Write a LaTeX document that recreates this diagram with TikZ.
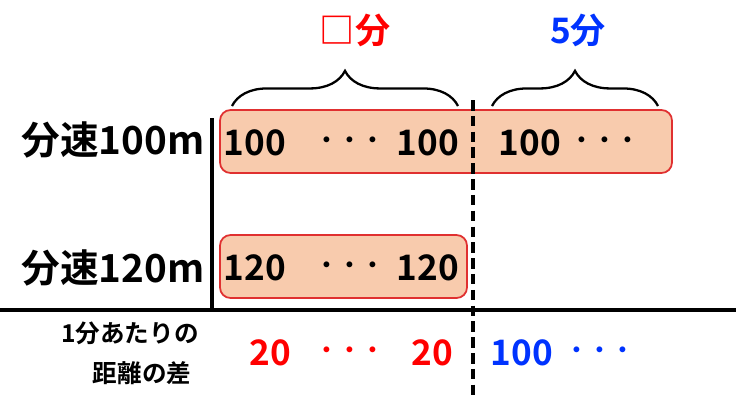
\documentclass[tikz,border=0pt]{standalone}
\usepackage{fontspec}
\setmainfont{Noto Sans CJK JP}[BoldFont={* Bold}]
\usetikzlibrary{decorations.pathreplacing}
\definecolor{barfill}{HTML}{F8CBAD}
\definecolor{barline}{HTML}{E03030}
\definecolor{numred}{HTML}{FF0000}
\definecolor{numblue}{HTML}{0033FF}
\begin{document}
\begin{tikzpicture}
  [x=0.02cm, y=-0.02cm, font=\bfseries,
   bar/.style={draw=barline, fill=barfill, rounded corners=6pt, line width=1pt},
   num/.style={font=\bfseries\fontsize{20}{22}\selectfont},
   dots/.style={font=\bfseries\fontsize{13}{15}\selectfont},
   rowlabel/.style={font=\bfseries\fontsize{22}{24}\selectfont},
   brace/.style={decorate, decoration={brace, amplitude=20pt}, line width=1.3pt}]

  \useasboundingbox (0,0) rectangle (736,407);

  % bars
  \draw[bar] (220,110) rectangle (672,173);
  \draw[bar] (220,235) rectangle (467,298);

  % axes
  \draw[line width=2pt] (212,118) -- (212,310);
  \draw[line width=2pt] (0,310) -- (736,310);
  \draw[line width=2pt, dash pattern=on 6pt off 3pt] (473,100) -- (473,400);

  % braces
  \draw[brace] (232,106) -- (458,106);
  \draw[brace] (492,106) -- (658,106);
  \node[num, text=numred] (unknown) at (355,30) {□分};
  \node[num, text=numblue] (five) at (578,30) {5分};

  % row labels
  \node[rowlabel] (speeda) at (113,140) {分速100m};
  \node[rowlabel] (speedb) at (113,268) {分速120m};
  \node[font=\bfseries\fontsize{14}{16}\selectfont] (diffa) at (130,333) {1分あたりの};
  \node[font=\bfseries\fontsize{14}{16}\selectfont] (diffb) at (142,373) {距離の差};

  % numbers in top bar
  \node[num] (a1) at (255,143) {100};
  \node[dots] (a2) at (350,143) {・・・};
  \node[num] (a3) at (428,143) {100};
  \node[num] (a4) at (530,143) {100};
  \node[dots] (a5) at (605,143) {・・・};

  % numbers in bottom bar
  \node[num] (b1) at (255,268) {120};
  \node[dots] (b2) at (350,268) {・・・};
  \node[num] (b3) at (428,268) {120};

  % differences
  \node[num, text=numred] (c1) at (270,353) {20};
  \node[dots, text=numred] (c2) at (350,353) {・・・};
  \node[num, text=numred] (c3) at (432,353) {20};
  \node[num, text=numblue] (c4) at (522,353) {100};
  \node[dots, text=numblue] (c5) at (600,353) {・・・};
\end{tikzpicture}
\end{document}
